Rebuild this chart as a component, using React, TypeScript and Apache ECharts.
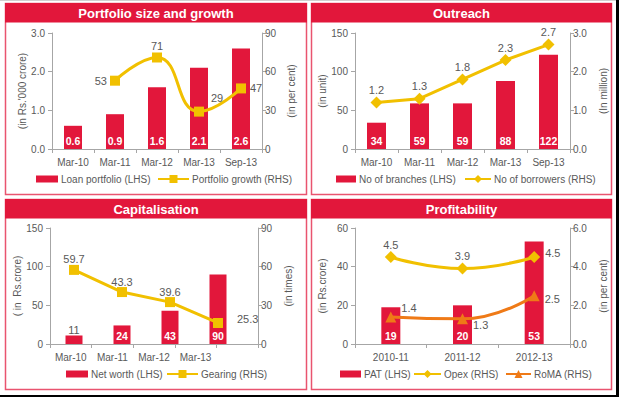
import React, { useEffect, useRef } from "react";
import * as echarts from "echarts";

// ---------- data ----------
const portfolioCats = ["Mar-10", "Mar-11", "Mar-12", "Mar-13", "Sep-13"];
const loanPortfolio = [0.6, 0.9, 1.6, 2.1, 2.6];
const portfolioGrowth: (number | null)[] = [null, 53, 71, 29, 47];

const outreachCats = ["Mar-10", "Mar-11", "Mar-12", "Mar-13", "Sep-13"];
const branches = [34, 59, 59, 88, 122];
const borrowers = [1.2, 1.3, 1.8, 2.3, 2.7];

const capAxisCats = ["Mar-10", "Mar-11", "Mar-12", "Mar-13", ""];
const capCats = ["Mar-10", "Mar-11", "Mar-12", "Mar-13"];
const netWorth = [11, 24, 43, 90];
const gearingPlotted = [57.5, 40.3, 32.5, 16.3];
const gearingLabels = ["59.7", "43.3", "39.6", "25.3"];

const profCats = ["2010-11", "2011-12", "2012-13"];
const pat = [19, 20, 53];
const opex = [4.5, 3.9, 4.5];
const roma = [1.4, 1.3, 2.5];

// ---------- styles ----------
const RED = "#e2173b";
const YELLOW = "#f1c000";
const ORANGE = "#ef7a17";
const GRAY = "#595959";
const AXIS = "#a6a6a6";
const BORDER = "#e9546f";
const FONT = "'Liberation Sans', Arial, sans-serif";

function xAxis(gridIndex: number, data: string[], hidden = false) {
  return {
    type: "category",
    gridIndex,
    data,
    show: !hidden,
    axisLine: { show: true, lineStyle: { color: AXIS, width: 1 } },
    axisTick: { show: true, length: 4, lineStyle: { color: AXIS } },
    axisLabel: { color: GRAY, fontSize: 10, margin: 8, interval: 0, fontFamily: FONT },
  };
}

function yAxis(
  gridIndex: number,
  position: "left" | "right",
  max: number,
  interval: number,
  decimals: number,
  name: string,
  nameGap: number,
  hidden = false
) {
  return {
    type: "value",
    gridIndex,
    position,
    show: !hidden,
    min: 0,
    max,
    interval,
    name: hidden ? "" : name,
    nameLocation: "middle",
    nameGap,
    nameRotate: 90,
    nameTextStyle: { color: GRAY, fontSize: 10, fontFamily: FONT },
    axisLine: { show: true, lineStyle: { color: AXIS, width: 1 } },
    axisTick: { show: true, length: 4, lineStyle: { color: AXIS } },
    splitLine: { show: false },
    axisLabel: {
      color: GRAY,
      fontSize: 10,
      margin: position === "left" ? 7 : 3,
      fontFamily: FONT,
      formatter: (v: number) => v.toFixed(decimals),
    },
  };
}

const barLabel = {
  show: true,
  position: "insideBottom",
  distance: 3,
  color: "#ffffff",
  fontWeight: "bold",
  fontSize: 10.5,
  fontFamily: FONT,
};

const lineLabelBase = { show: true, color: GRAY, fontSize: 11, fontFamily: FONT };

function legend(name: string, left: number, top: number, w: number, h: number, isBar: boolean) {
  return {
    left,
    top,
    padding: 0,
    itemWidth: w,
    itemHeight: h,
    data: isBar ? [{ name, icon: "rect" }] : [name],
    textStyle: { color: GRAY, fontSize: 10, fontFamily: FONT, padding: [0, 0, 0, -2] },
    selectedMode: false,
  };
}

function panel(x: number, y: number, w: number, h: number, title: string) {
  return [
    {
      type: "rect",
      shape: { x, y, width: w, height: h },
      style: { fill: "none", stroke: BORDER, lineWidth: 1.5 },
      silent: true,
    },
    {
      type: "rect",
      shape: { x: x - 0.5, y: y - 0.5, width: w + 1, height: 19.5 },
      style: { fill: RED },
      silent: true,
    },
    {
      type: "text",
      x: x + w / 2,
      y: y + 10,
      style: {
        text: title,
        fill: "#ffffff",
        font: `bold 13px ${FONT}`,
        align: "center",
        verticalAlign: "middle",
        textAlign: "center",
        textVerticalAlign: "middle",
      },
      silent: true,
    },
  ];
}

export default function App() {
  const ref = useRef<HTMLDivElement>(null);

  useEffect(() => {
    document.body.style.margin = "0";
    if (!ref.current) return;
    const chart = echarts.init(ref.current, undefined, { renderer: "svg" });

    const option: any = {
      animation: false,
      backgroundColor: "#ffffff",
      textStyle: { fontFamily: FONT },
      grid: [
        { left: 52, top: 33, width: 210, height: 116 },
        { left: 355, top: 33, width: 215, height: 116 },
        { left: 50, top: 228, width: 208, height: 116 },
        { left: 355, top: 228, width: 215, height: 116 },
        // data grid of the capitalisation panel (marks are spread over 4 bands)
        { left: 50, top: 228, width: 192, height: 116 },
      ],
      xAxis: [
        xAxis(0, portfolioCats),
        xAxis(1, outreachCats),
        xAxis(2, capAxisCats),
        xAxis(3, profCats),
        xAxis(4, capCats, true),
      ],
      yAxis: [
        yAxis(0, "left", 3, 1, 1, "(in Rs.'000 crore)", 24),
        yAxis(0, "right", 90, 30, 0, "(in per cent)", 24),
        yAxis(1, "left", 150, 50, 0, "(in unit)", 27),
        yAxis(1, "right", 3, 1, 1, "(In million)", 28),
        yAxis(2, "left", 150, 50, 0, "( in  Rs.crore)", 27),
        yAxis(2, "right", 90, 30, 0, "(in times)", 25),
        yAxis(3, "left", 60, 20, 0, "(in Rs.crore)", 28),
        yAxis(3, "right", 6, 2, 1, "(in per cent)", 28),
        yAxis(4, "left", 150, 50, 0, "", 0, true),
        yAxis(4, "right", 90, 30, 0, "", 0, true),
      ],
      legend: [
        legend("Loan portfolio (LHS)", 36, 174, 22, 7, true),
        legend("Portfolio growth (RHS)", 157, 174, 31, 10, false),
        legend("No of branches (LHS)", 336, 174, 20, 7, true),
        legend("No of borrowers (RHS)", 464, 174, 26, 10, false),
        legend("Net worth (LHS)", 66, 369, 22, 7, true),
        legend("Gearing (RHS)", 166, 369, 31, 10, false),
        legend("PAT (LHS)", 340, 369, 21, 7, true),
        legend("Opex (RHS)", 413, 369, 27, 10, false),
        legend("RoMA (RHS)", 505, 369, 25, 10, false),
      ],
      graphic: [
        { type: "rect", shape: { x: 0, y: 0, width: 619, height: 1 }, style: { fill: "#d0d0d0" }, silent: true },
        { type: "rect", shape: { x: 616, y: 0, width: 3, height: 397 }, style: { fill: "#000000" }, silent: true },
        { type: "rect", shape: { x: 0, y: 395, width: 619, height: 2 }, style: { fill: "#000000" }, silent: true },
        ...panel(5.5, 3.5, 301, 191, "Portfolio size and growth"),
        ...panel(311.5, 3.5, 300, 191, "Outreach"),
        ...panel(5.5, 199.5, 301, 190, "Capitalisation"),
        ...panel(311.5, 199.5, 300, 190, "Profitability"),
      ],
      series: [
        // Portfolio size and growth
        {
          name: "Loan portfolio (LHS)",
          type: "bar",
          xAxisIndex: 0,
          yAxisIndex: 0,
          barWidth: 18,
          itemStyle: { color: RED },
          label: { ...barLabel, formatter: (p: any) => p.value.toFixed(1) },
          data: loanPortfolio,
        },
        {
          name: "Portfolio growth (RHS)",
          type: "line",
          xAxisIndex: 0,
          yAxisIndex: 1,
          smooth: 0.5,
          symbol: "rect",
          symbolSize: 10,
          itemStyle: { color: YELLOW },
          lineStyle: { color: YELLOW, width: 3 },
          label: { ...lineLabelBase, position: "top", distance: 1 },
          data: portfolioGrowth.map((v, i) => {
            if (v === null) return "-";
            const pos: any[] = [
              {},
              { position: "left", distance: 3 },
              { position: "top", distance: 1 },
              { position: "top", distance: 1, offset: [18, -2] },
              { position: "right", distance: 4 },
            ];
            return { value: v, label: pos[i] };
          }),
        },
        // Outreach
        {
          name: "No of branches (LHS)",
          type: "bar",
          xAxisIndex: 1,
          yAxisIndex: 2,
          barWidth: 19,
          itemStyle: { color: RED },
          label: barLabel,
          data: branches,
        },
        {
          name: "No of borrowers (RHS)",
          type: "line",
          xAxisIndex: 1,
          yAxisIndex: 3,
          symbol: "diamond",
          symbolSize: 12,
          itemStyle: { color: YELLOW },
          lineStyle: { color: YELLOW, width: 3 },
          label: { ...lineLabelBase, position: "top", distance: 1, formatter: (p: any) => p.value.toFixed(1) },
          data: borrowers,
        },
        // Capitalisation
        {
          name: "Net worth (LHS)",
          type: "bar",
          xAxisIndex: 4,
          yAxisIndex: 8,
          barWidth: 17,
          itemStyle: { color: RED },
          label: barLabel,
          data: netWorth.map((v, i) =>
            i === 0
              ? { value: v, label: { position: "top", color: GRAY, fontWeight: "normal", fontSize: 11, distance: 0 } }
              : v
          ),
        },
        {
          name: "Gearing (RHS)",
          type: "line",
          xAxisIndex: 4,
          yAxisIndex: 9,
          symbol: "rect",
          symbolSize: 10,
          itemStyle: { color: YELLOW },
          lineStyle: { color: YELLOW, width: 3 },
          label: { ...lineLabelBase, position: "top", distance: 0 },
          data: gearingPlotted.map((v, i) => ({
            value: v,
            label:
              i === 3
                ? { formatter: gearingLabels[i], position: "right", distance: 5, offset: [9, -4] }
                : { formatter: gearingLabels[i] },
          })),
        },
        // Profitability
        {
          name: "PAT (LHS)",
          type: "bar",
          xAxisIndex: 3,
          yAxisIndex: 6,
          barWidth: 19,
          itemStyle: { color: RED },
          label: barLabel,
          data: pat,
        },
        {
          name: "Opex (RHS)",
          type: "line",
          xAxisIndex: 3,
          yAxisIndex: 7,
          smooth: 0.5,
          symbol: "diamond",
          symbolSize: 12,
          itemStyle: { color: YELLOW },
          lineStyle: { color: YELLOW, width: 3 },
          label: { ...lineLabelBase, position: "top", distance: 1, formatter: (p: any) => p.value.toFixed(1) },
          data: opex.map((v, i) =>
            i === 2 ? { value: v, label: { position: "right", distance: 5, offset: [0, -4] } } : v
          ),
        },
        {
          name: "RoMA (RHS)",
          type: "line",
          xAxisIndex: 3,
          yAxisIndex: 7,
          smooth: 0.5,
          symbol: "triangle",
          symbolSize: 11,
          itemStyle: { color: ORANGE },
          lineStyle: { color: ORANGE, width: 3 },
          label: { ...lineLabelBase, position: "right", distance: 5, formatter: (p: any) => p.value.toFixed(1) },
          data: roma.map((v, i) => ({
            value: v,
            label: { offset: i === 0 ? [0, -9] : i === 1 ? [0, 6] : [0, 3] },
          })),
        },
      ],
    };

    chart.setOption(option);
    return () => chart.dispose();
  }, []);

  return (
    <div
      ref={ref}
      style={{ position: "absolute", left: 0, top: 0, width: 619, height: 397, background: "#fff" }}
    />
  );
}
